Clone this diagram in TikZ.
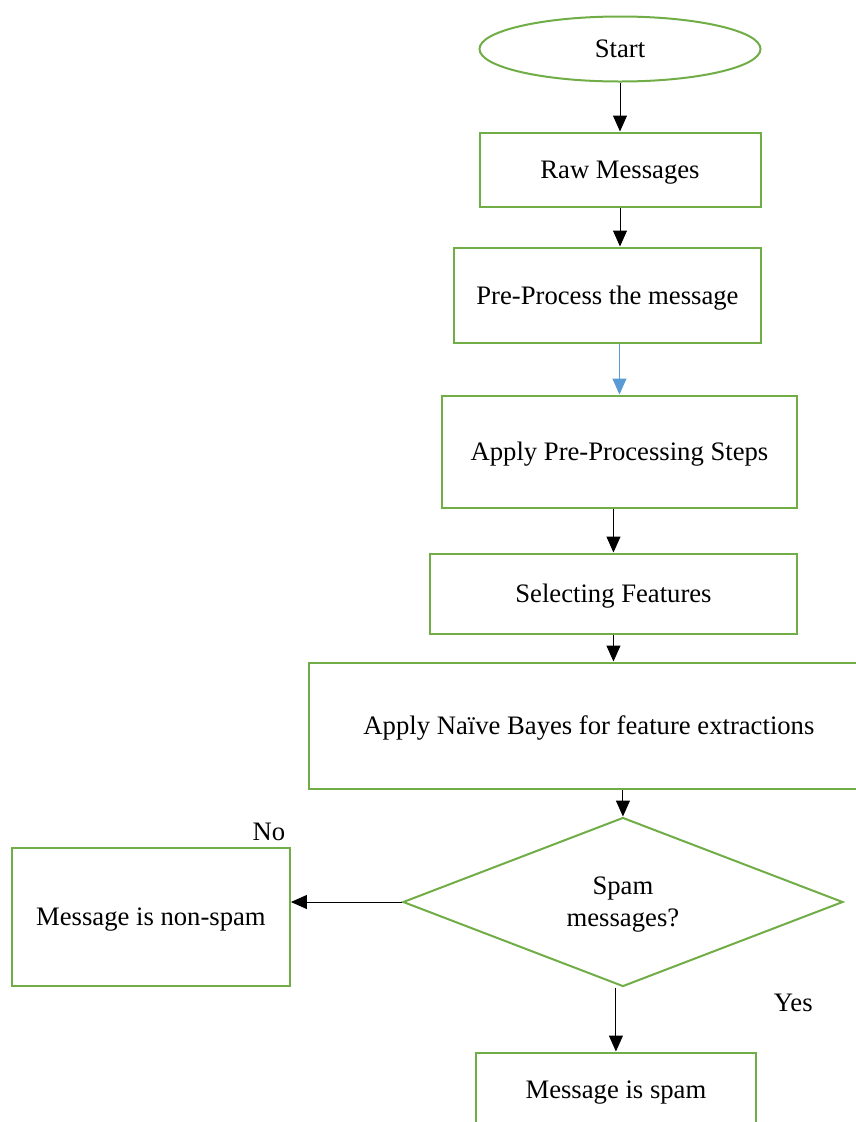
\documentclass[tikz,border=0pt]{standalone}
\usepackage{fontspec}
\setmainfont{Liberation Serif}
\usetikzlibrary{shapes.geometric, arrows.meta, positioning}
\definecolor{boxgreen}{HTML}{70AD47}
\definecolor{flowblue}{HTML}{5B9BD5}

\begin{document}
\begin{tikzpicture}[
    font=\fontsize{20}{24}\selectfont,
    box/.style={draw=boxgreen, line width=1.5pt, rectangle, inner sep=0pt, text depth=0pt},
    arr/.style={-{Triangle[length=12pt, width=10.5pt]}, line width=0.75pt},
    lbl/.style={inner sep=0pt}
]
    \useasboundingbox (0,0) rectangle (642pt,-841.5pt);

    \node[draw=boxgreen, line width=1.5pt, ellipse, inner sep=0pt, minimum width=210.75pt, minimum height=48.75pt] (start) at (465pt,-36.75pt) {Start};
    \node[box, minimum width=210.75pt, minimum height=55.5pt, below=36.75pt of start] (raw) {Raw Messages};
    \node[box, minimum width=230.25pt, minimum height=71.25pt, below=29.25pt of raw, xshift=-9.4pt] (pre) {Pre-Process the message};
    \node[box, minimum width=266.25pt, minimum height=84pt, below=38.25pt of pre, xshift=9pt] (steps) {Apply Pre-Processing Steps};
    \node[box, minimum width=275.25pt, minimum height=60pt, below=33pt of steps, xshift=-4.5pt] (feat) {Selecting Features};
    \node[box, minimum width=420pt, minimum height=94.5pt, below=20.25pt of feat, xshift=-18.4pt] (nb) {Apply Naïve Bayes for feature extractions};
    \node[draw=boxgreen, line width=1.5pt, diamond, inner sep=0pt, align=center, text depth=-2pt, minimum width=330pt, minimum height=126.75pt, below=20.25pt of nb, xshift=25.5pt] (dec) {Spam\\messages?};
    \node[box, minimum width=210pt, minimum height=55.5pt, below=48pt of dec, xshift=-5.25pt] (spam) {Message is spam};
    \node[box, minimum width=208.5pt, minimum height=103.5pt, left=84.75pt of dec, yshift=-10.9pt, xshift=1.5pt] (nonspam) {Message is non-spam};

    \node[lbl, anchor=south east, xshift=-4pt, yshift=4pt] (no) at (nonspam.north east) {No};
    \node[lbl, anchor=north west, xshift=113pt, yshift=-5pt] (yes) at (dec.south) {Yes};

    \draw[arr] (start) -- (raw);
    \draw[arr] (raw.south) -- (raw.south |- pre.north);
    \draw[arr, draw=flowblue, fill=flowblue] (steps.north |- pre.south) -- (steps.north);
    \draw[arr] (feat.north |- steps.south) -- (feat.north);
    \draw[arr] (feat.south) -- (feat.south |- nb.north);
    \draw[arr] (dec.north |- nb.south) -- (dec.north);
    \draw[arr] (dec.west) -- (dec.west -| nonspam.east);
    \draw[arr] (spam.north |- dec.south) -- (spam.north);
\end{tikzpicture}
\end{document}
